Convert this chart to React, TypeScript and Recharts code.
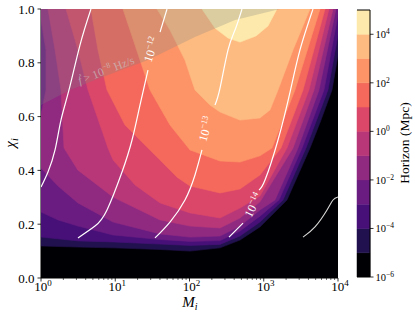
import React from 'react';
import { ScatterChart, Scatter, XAxis, YAxis, ReferenceLine, BarChart, Bar, Curve } from 'recharts';

type Pt = [number, number];

// x is log10(M_i), y is chi_i
const X_MAJOR = [0, 1, 2, 3, 4];
const X_MINOR_MANT = [2, 3, 4, 5, 6, 7, 8, 9];
const Y_TICKS = [0, 0.2, 0.4, 0.6, 0.8, 1.0];

// colorbar: band edges in log10(Mpc)
const CB_LEVELS = [-6, -5, -4, -3, -2, -1, 0, 1, 2, 3, 4, 5];
const CB_TICKS = [-6, -4, -2, 0, 2, 4];
const MAGMA = ['#000004', '#21114e', '#471078', '#6a1c81', '#902a81', '#b73779', '#da4769', '#f4695c', '#fd9467', '#febb81', '#fde9ab'];

// filled contour regions, horizon >= 10^(level-6) Mpc
const LEVEL_0: Pt[] = [[0, 0], [4, 0], [4, 1], [0, 1]];
const LEVEL_1: Pt[] = [[0, .119], [.498, .115], [.970, .112], [1.603, .106], [2.007, .100], [2.411, .112], [2.680, .141], [2.949, .190], [3.313, .290], [3.623, .483], [3.771, .587], [3.919, .699], [4, .829], [4, 1], [0, 1]];
const LEVEL_2: Pt[] = [[0, .152], [.498, .138], [.970, .134], [1.603, .126], [2.007, .121], [2.411, .125], [2.680, .156], [2.949, .208], [3.259, .290], [3.569, .483], [3.865, .699], [4, .903], [4, 1], [0, 1]];
const LEVEL_3: Pt[] = [[0, .245], [.229, .216], [.498, .193], [.970, .160], [1.603, .143], [2.007, .136], [2.411, .139], [2.680, .175], [2.949, .230], [3.205, .290], [3.515, .483], [3.811, .699], [4, .978], [4, 1], [0, 1]];
const LEVEL_4: Pt[] = [[0, .959], [.067, .848], [.067, .699], [0, .606], [0, .409], [.229, .342], [.498, .279], [.970, .208], [1.603, .164], [2.007, .152], [2.411, .156], [2.680, .193], [2.949, .253], [3.152, .290], [3.461, .483], [3.744, .699], [3.973, 1], [0, 1]];
const LEVEL_5: Pt[] = [[.094, 1], [.189, .848], [.269, .699], [.310, .483], [.498, .401], [.970, .301], [1.603, .216], [2.007, .193], [2.411, .186], [2.680, .223], [2.949, .283], [3.394, .483], [3.677, .699], [3.933, 1]];
const LEVEL_6: Pt[] = [[.337, 1], [.498, .848], [.633, .699], [.902, .483], [.970, .439], [1.266, .346], [1.603, .279], [2.007, .242], [2.411, .223], [2.680, .260], [2.949, .305], [3.313, .483], [3.609, .699], [3.879, 1]];
const LEVEL_7: Pt[] = [[.673, 1], [.768, .848], [.889, .699], [1.131, .569], [1.441, .483], [1.603, .439], [1.832, .375], [2.007, .342], [2.411, .316], [2.680, .331], [2.949, .383], [3.232, .483], [3.529, .699], [3.825, 1]];
const LEVEL_8: Pt[] = [[1.104, 1], [1.266, .866], [1.468, .699], [1.737, .569], [2.007, .476], [2.411, .435], [2.680, .431], [2.949, .454], [3.111, .483], [3.421, .699], [3.758, 1]];
const LEVEL_9: Pt[] = [[1.562, 1], [1.737, .922], [1.939, .810], [2.074, .699], [2.276, .643], [2.411, .617], [2.680, .587], [2.949, .595], [3.084, .625], [3.192, .699], [3.394, .848], [3.623, 1]];
const LEVEL_10: Pt[] = [[2.168, 1], [2.343, .929], [2.519, .892], [2.680, .877], [2.896, .900], [3.057, .937], [3.178, 1]];
const LEVELS = [LEVEL_0, LEVEL_1, LEVEL_2, LEVEL_3, LEVEL_4, LEVEL_5, LEVEL_6, LEVEL_7, LEVEL_8, LEVEL_9, LEVEL_10];

// fdot > 1e-8 Hz/s shaded region
const FDOT_REGION: Pt[] = [[0, .643], [.391, .699], [.727, .736], [1.441, .810], [2.074, .896], [2.613, .959], [3.219, 1], [0, 1]];
const FDOT_LABEL: Pt[] = [[.875, .773]];

// white frequency contours (split where the labels sit)
const LINE_A: Pt[] = [[.673, 1], [.525, .866], [.377, .699], [.269, .587], [.189, .476], [.094, .394], [0, .338]];
const LINE_B_UP: Pt[] = [[1.697, 1], [1.603, .914]];
const LINE_B_LOW: Pt[] = [[1.441, .773], [1.333, .643], [1.226, .513], [1.091, .394], [.889, .253], [.727, .193], [.498, .149]];
const LINE_C_UP: Pt[] = [[2.707, 1], [2.613, .922], [2.519, .848], [2.411, .706], [2.343, .643]];
const LINE_C_LOW: Pt[] = [[2.168, .476], [2.074, .383], [1.939, .290], [1.737, .208], [1.535, .149]];
const LINE_D_UP: Pt[] = [[3.663, 1], [3.488, .848], [3.354, .691], [3.192, .513], [3.017, .364], [2.936, .327]];
const LINE_D_LOW: Pt[] = [[2.721, .204], [2.532, .152]];
const LINE_E: Pt[] = [[3.529, .152], [3.690, .190], [3.852, .253], [3.933, .290], [4, .301]];
const WHITE_LINES = [LINE_A, LINE_B_UP, LINE_B_LOW, LINE_C_UP, LINE_C_LOW, LINE_D_UP, LINE_D_LOW];

const LABEL_POS: Pt[] = [[1.488, .849], [2.222, .554], [2.862, .271]];
const LABEL_EXP = [-12, -13, -14];
const LABEL_ANGLE = [-72, -74, -63];

const M_CUT = 1.78; // log10(60)
const CHI_CUT = 0.7;

const FONT = '"Liberation Serif", "DejaVu Serif", serif';

const toPts = (arr: Pt[]) => arr.map(([x, y]) => ({ x, y }));
const expText = (e: number) => (e < 0 ? `\u2212${-e}` : `${e}`);
const Empty = () => <g />;

const xTicks = [...X_MAJOR];
X_MAJOR.slice(0, -1).forEach((k) => X_MINOR_MANT.forEach((m) => xTicks.push(k + Math.log10(m))));
xTicks.sort((a, b) => a - b);

const XTick = (props: any) => {
  const { x, y, payload } = props;
  const v = payload.value as number;
  const major = X_MAJOR.includes(v);
  return (
    <g>
      <line x1={x} x2={x} y1={y} y2={y + (major ? 3.5 : 2)} stroke="#000" strokeWidth={major ? 0.8 : 0.6} />
      {major && (
        <text x={x + 2} y={y + 13} textAnchor="middle" fontFamily={FONT} fontSize={13} fill="#000">
          10<tspan dy={-5} fontSize={9}>{v}</tspan>
        </text>
      )}
    </g>
  );
};

const CbTick = (props: any) => {
  const { x, y, payload } = props;
  const e = payload.value + CB_LEVELS[0];
  return (
    <text x={x} y={y + 4} fontFamily={FONT} fontSize={10.5} fill="#000">
      10<tspan dy={-4} fontSize={7.5}>{expText(e)}</tspan>
    </text>
  );
};

const polygon = (fill: string, opacity = 1) => (p: any) => (
  <Curve points={p.points} type="linearClosed" fill={fill} fillOpacity={opacity} stroke={opacity === 1 ? fill : 'none'} strokeWidth={0.6} />
);

const cbRow: Record<string, any> = { name: 'cb' };
CB_LEVELS.slice(0, -1).forEach((lv, i) => { cbRow[`b${i}`] = CB_LEVELS[i + 1] - lv; });

export default function App() {
  return (
    <div style={{ position: 'absolute', left: 0, top: 0, width: 415, height: 315, background: '#fff', fontFamily: FONT }}>
      <div style={{ position: 'absolute', left: 0, top: 0 }}>
        <ScatterChart width={415} height={315} margin={{ top: 9, right: 77, bottom: 0, left: 0 }}>
          <XAxis type="number" dataKey="x" domain={[0, 4]} ticks={xTicks} interval={0} allowDataOverflow
            height={37} tickSize={0} tickMargin={0} tickLine={false} axisLine={{ stroke: '#000' }} tick={<XTick />} />
          <XAxis xAxisId="top" orientation="top" type="number" domain={[0, 4]} height={0} tick={false} tickLine={false} axisLine={{ stroke: '#000' }} />
          <YAxis type="number" dataKey="y" domain={[0, 1]} ticks={Y_TICKS} interval={0} allowDataOverflow width={41}
            tickSize={3.5} tickMargin={3} tickFormatter={(v: number) => v.toFixed(1)}
            tick={{ fill: '#000', fontSize: 13, fontFamily: FONT }} tickLine={{ stroke: '#000', strokeWidth: 0.8 }} axisLine={{ stroke: '#000' }} />
          <YAxis yAxisId="right" orientation="right" type="number" domain={[0, 1]} width={0} tick={false} tickLine={false} axisLine={{ stroke: '#000' }} />

          {LEVELS.map((lv, i) => (
            <Scatter key={`lv${i}`} data={toPts(lv)} shape={Empty} line={polygon(MAGMA[i])} isAnimationActive={false} legendType="none" />
          ))}

          <Scatter data={toPts(FDOT_REGION)} shape={Empty} line={polygon('#808080', 0.27)} isAnimationActive={false} legendType="none" />
          <Scatter data={toPts(FDOT_LABEL)} isAnimationActive={false} legendType="none"
            shape={(p: any) => (
              <text transform={`rotate(-21 ${p.cx} ${p.cy})`} x={p.cx} y={p.cy} textAnchor="middle" dominantBaseline="central"
                fontFamily={FONT} fontSize={11.5} fill="#c8c8c8" fillOpacity={0.65}>
                <tspan fontStyle="italic">{'\u1E1F'}</tspan> &gt; 10<tspan dy={-4} fontSize={8}>{'\u22128'}</tspan><tspan dy={4}> Hz/s</tspan>
              </text>
            )} />

          {WHITE_LINES.map((ln, i) => (
            <Scatter key={`wl${i}`} data={toPts(ln)} shape={Empty} line={{ stroke: '#fff', strokeWidth: 1.2 }} lineJointType="natural"
              isAnimationActive={false} legendType="none" />
          ))}
          <Scatter data={toPts(LINE_E)} shape={Empty} line={{ stroke: '#d8d8d8', strokeWidth: 1.1 }} lineJointType="natural"
            isAnimationActive={false} legendType="none" />

          {LABEL_POS.map((pos, i) => (
            <Scatter key={`lb${i}`} data={toPts([pos])} isAnimationActive={false} legendType="none"
              shape={(p: any) => (
                <text transform={`rotate(${LABEL_ANGLE[i]} ${p.cx} ${p.cy})`} x={p.cx} y={p.cy} textAnchor="middle" dominantBaseline="central"
                  fontFamily={FONT} fontSize={12} fill="#fff">
                  10<tspan dy={-4} fontSize={8.5}>{expText(LABEL_EXP[i])}</tspan>
                </text>
              )} />
          ))}

          <ReferenceLine x={M_CUT} stroke="#fff" strokeWidth={1.4} strokeDasharray="1.4 2" />
          <ReferenceLine y={CHI_CUT} stroke="#fff" strokeWidth={1.4} strokeDasharray="1.4 2" />
        </ScatterChart>
      </div>

      <div style={{ position: 'absolute', left: 345, top: 0 }}>
        <BarChart width={70} height={315} data={[cbRow]} margin={{ top: 10, right: 0, left: 12, bottom: 38 }} barCategoryGap={0} barGap={0}>
          <XAxis dataKey="name" hide />
          <YAxis orientation="right" type="number" domain={[0, CB_LEVELS.length - 1]} allowDataOverflow width={45}
            ticks={CB_TICKS.map((t) => t - CB_LEVELS[0])} interval={0} tickSize={3.5} tickMargin={2}
            tickLine={{ stroke: '#000', strokeWidth: 0.8 }} axisLine={{ stroke: '#000' }} tick={<CbTick />} />
          <YAxis yAxisId="left" orientation="left" type="number" domain={[0, CB_LEVELS.length - 1]} width={0} tick={false} tickLine={false} axisLine={{ stroke: '#000' }} />
          {CB_LEVELS.slice(0, -1).map((_, i) => (
            <Bar key={`b${i}`} dataKey={`b${i}`} stackId="cb" fill={MAGMA[i]} stroke={MAGMA[i]} strokeWidth={0.5} isAnimationActive={false} />
          ))}
          <ReferenceLine y={0} stroke="#000" strokeWidth={1} />
          <ReferenceLine y={CB_LEVELS.length - 1} stroke="#000" strokeWidth={1} />
        </BarChart>
      </div>

      <svg width={415} height={315} style={{ position: 'absolute', left: 0, top: 0, pointerEvents: 'none' }}>
        <text x={190} y={307} textAnchor="middle" fontFamily={FONT} fontSize={15} fontStyle="italic" fill="#000">
          M<tspan dy={3} fontSize={10}>i</tspan>
        </text>
        <text transform="translate(15 143) rotate(-90)" textAnchor="middle" fontFamily={FONT} fontSize={15} fontStyle="italic" fill="#000">
          {'\u03C7'}<tspan dy={3} fontSize={10}>i</tspan>
        </text>
        <text transform="translate(409 143) rotate(-90)" textAnchor="middle" fontFamily={FONT} fontSize={13.5} fill="#000">
          Horizon (Mpc)
        </text>
      </svg>
    </div>
  );
}
